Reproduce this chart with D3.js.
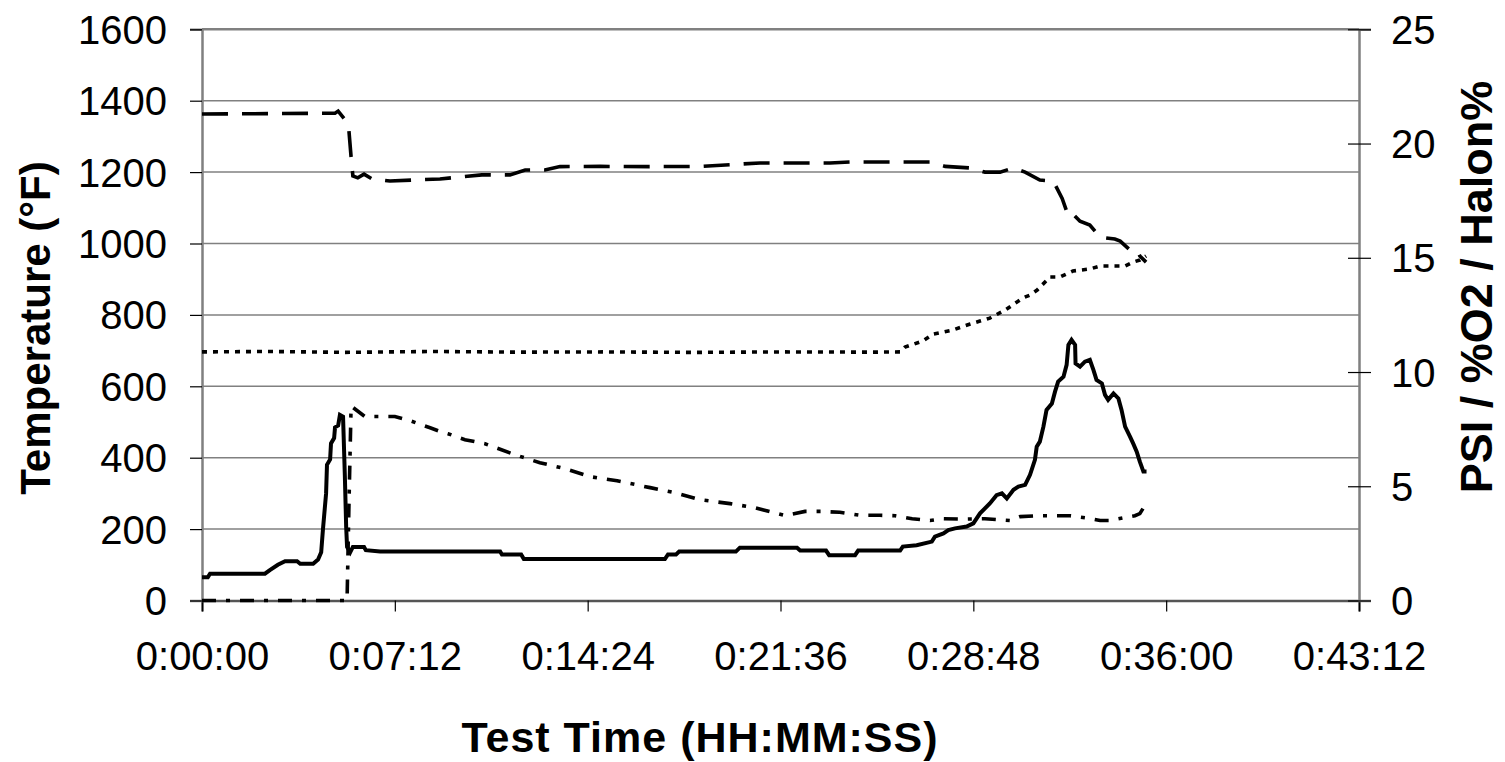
<!DOCTYPE html>
<html>
<head>
<meta charset="utf-8">
<script src="https://cdn.jsdelivr.net/npm/d3@7/dist/d3.min.js"></script>
<style>
  html, body { margin: 0; padding: 0; background: #fff; }
  svg { display: block; }
  text { font-family: "Liberation Sans", Arial, sans-serif; fill: #000; }
</style>
</head>
<body>
<svg id="chart" width="1505" height="762"></svg>
<script>
// ---- DATA (time in seconds) ----
const tempT = [0,13,18,141,152,170,186,213,220,249,260,267,271,278,280,287,289,296,298,305,309,316,320,323,325,332,338,363,367,399,668,672,715,721,1037,1044,1062,1069,1196,1205,1333,1340,1398,1405,1463,1470,1564,1570,1601,1635,1642,1661,1672,1687,1713,1728,1743,1765,1780,1792,1803,1818,1829,1844,1855,1866,1870,1877,1885,1892,1904,1911,1918,1930,1937,1941,1948,1956,1957,1967,1978,1989,1997,2004,2016,2023,2030,2042,2053,2060,2068,2079,2086,2094,2101,2109,2116];
const tempV = [65,65,75,75,85,100,110,110,103,103,115,135,200,300,380,395,440,455,485,490,520,515,350,205,150,135,150,150,141,137,137,129,129,116,116,129,129,137,137,148,148,140,140,127,127,140,140,151,155,165,179,188,197,202,207,216,244,272,295,300,286,310,319,324,352,394,431,445,487,534,552,585,613,627,660,716,730,716,664,655,669,674,646,618,608,576,562,580,566,534,487,459,440,417,389,361,361];

const o2T = [0,298,305,314,323,329,334,338,349,363,381,421,533,627,690,724,768,802,892,1004,1116,1250,1407,1452,1631,1665,1721,1754,1788,1817,1844,1877,1907,1927,1940,1949,1967,1989,2012,2045,2057,2079,2095,2101,2115];
const o2V = [21.29,21.33,21.42,21.2,20.98,20.6,19.41,18.58,18.5,18.66,18.45,18.36,18.45,18.63,18.63,18.84,18.84,18.99,19.0,18.99,19.0,19.15,19.15,19.19,19.19,19.0,18.93,18.75,18.75,18.93,18.75,18.4,18.36,17.6,16.87,16.96,16.6,16.43,15.9,15.82,15.73,15.34,15.34,15.08,14.81];

const psiT = [0,150,320,520,700,900,1100,1300,1500,1564,1575,1615,1638,1682,1721,1743,1765,1799,1839,1855,1871,1900,1922,1951,1989,2012,2068,2086,2101,2115];
const psiV = [10.88,10.9,10.86,10.9,10.87,10.88,10.86,10.88,10.87,10.88,11.09,11.36,11.66,11.84,12.1,12.23,12.36,12.71,13.24,13.37,13.59,14.16,14.16,14.42,14.51,14.64,14.64,14.81,14.9,15.08];

const halonT = [0,325,329,334,338,365,432,466,511,533,551,589,634,701,757,813,869,930,1004,1060,1116,1183,1239,1306,1351,1389,1429,1474,1519,1553,1591,1631,1660,1705,1754,1810,1833,1877,1945,1978,2012,2034,2068,2090,2101,2115];
const halonV = [0,0,4,8.5,8.45,8.05,8.05,7.87,7.56,7.4,7.3,7.04,6.86,6.38,6.03,5.77,5.42,5.24,4.94,4.72,4.41,4.24,4.06,3.72,3.9,3.9,3.86,3.73,3.73,3.71,3.58,3.5,3.58,3.56,3.58,3.5,3.67,3.71,3.71,3.62,3.5,3.5,3.63,3.71,3.8,4.24];

const xTicks = [0,432,864,1296,1728,2160,2592];
const yLeftTicks = [0,200,400,600,800,1000,1200,1400,1600];
const yRightTicks = [0,5,10,15,20,25];

// ---- LAYOUT ----
const svg = d3.select("#chart");
const L = 202, R = 1359, T = 29.3, B = 600.5;
const x = d3.scaleLinear().domain([0, 2592]).range([L, R]);
const yL = d3.scaleLinear().domain([0, 1600]).range([B, T]);
const yR = d3.scaleLinear().domain([0, 25]).range([B, T]);

function fmt(s) {
  const h = Math.floor(s / 3600), m = Math.floor((s % 3600) / 60), sec = Math.round(s % 60);
  return h + ":" + String(m).padStart(2, "0") + ":" + String(sec).padStart(2, "0");
}

// gridlines
svg.append("g").selectAll("line").data(yLeftTicks.filter(d => d > 0)).join("line")
  .attr("x1", L).attr("x2", R)
  .attr("y1", d => yL(d)).attr("y2", d => yL(d))
  .attr("stroke", "#808080").attr("stroke-width", d => d === 1600 ? 2.5 : 1.5);

// axes
const gx = svg.append("g").attr("transform", `translate(0,${B})`)
  .call(d3.axisBottom(x).tickValues(xTicks).tickFormat(fmt).tickSize(11).tickPadding(30));
const gl = svg.append("g").attr("transform", `translate(${L},0)`)
  .call(d3.axisLeft(yL).tickValues(yLeftTicks).tickFormat(d3.format("d")).tickSize(12).tickPadding(23));
const gr = svg.append("g").attr("transform", `translate(${R},0)`)
  .call(d3.axisRight(yR).tickValues(yRightTicks).tickFormat(d3.format("d")).tickSize(12).tickPadding(20));

[gx, gl, gr].forEach(g => {
  g.selectAll("text").style("font-size", "40px").attr("fill", "#000");
  g.selectAll(".tick line").attr("stroke", "#000").attr("stroke-width", 1.2);
  g.select(".domain").attr("stroke", "#808080").attr("stroke-width", 2.5);
});
gx.select(".domain").attr("stroke", "#555");
gl.selectAll(".tick text").attr("dy", "0.35em");
gr.selectAll(".tick text").attr("dy", "0.35em");
// right axis ticks cross the axis
gr.selectAll(".tick line").attr("x1", -11);

// series
function series(ts, vs, scale, dash, w) {
  const pts = ts.map((t, i) => [t, vs[i]]);
  const line = d3.line().x(d => x(d[0])).y(d => scale(d[1]));
  svg.append("path").datum(pts).attr("d", line)
    .attr("fill", "none").attr("stroke", "#000").attr("stroke-width", w)
    .attr("stroke-linejoin", "miter")
    .attr("stroke-dasharray", dash);
}
series(psiT, psiV, yR, "5,6", 3.6);
series(halonT, halonV, yR, "14,10,4,10", 3.6);
series(o2T, o2V, yR, "26,14", 3.6);
series(tempT, tempV, yL, null, 4);

// axis titles
svg.append("text").attr("transform", "translate(50,328) rotate(-90)")
  .attr("text-anchor", "middle").style("font-size", "42px").style("font-weight", "bold")
  .text("Temperature (°F)");
svg.append("text").attr("transform", "translate(1492,287) rotate(-90)")
  .attr("text-anchor", "middle").style("font-size", "45px").style("font-weight", "bold")
  .text("PSI / %O2 / Halon%");
svg.append("text").attr("x", 700).attr("y", 752)
  .attr("text-anchor", "middle").style("font-size", "43px").style("font-weight", "bold")
  .attr("letter-spacing", "1")
  .text("Test Time (HH:MM:SS)");
</script>
</body>
</html>
